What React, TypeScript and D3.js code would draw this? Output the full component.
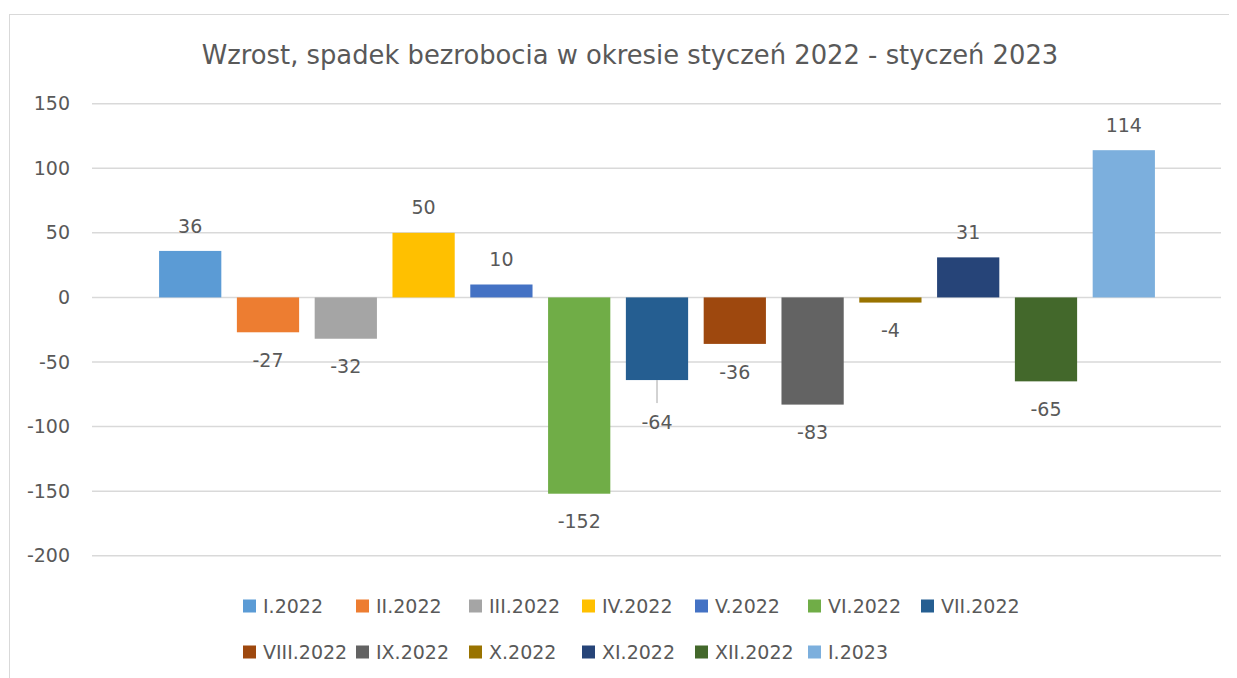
import React from "react";
import * as d3 from "d3";

const categories = ["I.2022","II.2022","III.2022","IV.2022","V.2022","VI.2022","VII.2022","VIII.2022","IX.2022","X.2022","XI.2022","XII.2022","I.2023"];
const values = [36,-27,-32,50,10,-152,-64,-36,-83,-4,31,-65,114];
const colors = ["#5B9BD5","#ED7D31","#A5A5A5","#FFC000","#4472C4","#70AD47","#255E91","#9E480E","#636363","#997300","#264478","#43682B","#7CAFDD"];
const yTicks = [150,100,50,0,-50,-100,-150,-200];
const title = "Wzrost, spadek bezrobocia w okresie styczeń 2022 - styczeń 2023";
// extra label displacement (px) for manually moved labels
const labelExtra = [0,0,0,0,0,0,14,0,0,0,0,0,0];

const FONT = "'DejaVu Sans', Verdana, sans-serif";
const TXT = "#595959";

export default function App() {
  const W = 1237, H = 678;
  const plotL = 92, plotR = 1221;
  const y = d3.scaleLinear().domain([-200, 150]).range([555.7, 103.7]);
  const x = d3.scaleBand<string>().domain(categories).range([151.3, 1162.7]).paddingInner(0.2).paddingOuter(0.1);
  const y0 = y(0);

  return (
    <svg width={W} height={H} style={{ display: "block", margin: "-8px 0 0 -8px", background: "#fff" }}>
      <rect x={9.5} y={14.5} width={W + 10} height={H + 10} fill="#fff" stroke="#d9d9d9" strokeWidth={1} />
      <text x={630} y={64} textAnchor="middle" fontFamily={FONT} fontSize={25.8} fill={TXT}>{title}</text>
      {yTicks.map((t) => (
        <g key={t}>
          <line x1={plotL} x2={plotR} y1={y(t)} y2={y(t)} stroke="#d9d9d9" strokeWidth={1.5} />
          <text x={70} y={y(t)} dy="0.35em" textAnchor="end" fontFamily={FONT} fontSize={19} fill={TXT}>{t}</text>
        </g>
      ))}
      {categories.map((c, i) => {
        const v = values[i];
        const bx = x(c)!;
        const top = Math.min(y(v), y0);
        const h = Math.abs(y(v) - y0);
        const cx = bx + x.bandwidth() / 2;
        const end = y(v);
        const ly = v >= 0 ? end - 25 : end + 28 + labelExtra[i];
        return (
          <g key={c}>
            <rect x={bx} y={top} width={x.bandwidth()} height={h} fill={colors[i]} />
            {labelExtra[i] > 0 && (
              <line x1={cx} x2={cx} y1={end} y2={end + 23} stroke="#a6a6a6" strokeWidth={1} />
            )}
            <text x={cx} y={ly} dy="0.35em" textAnchor="middle" fontFamily={FONT} fontSize={19} fill={TXT}>{v}</text>
          </g>
        );
      })}
      {categories.map((c, i) => {
        const col = i % 7;
        const row = Math.floor(i / 7);
        const lx = 243 + col * 113;
        const ly = 606 + row * 46;
        return (
          <g key={"lg" + c}>
            <rect x={lx} y={ly - 6.5} width={13} height={13} fill={colors[i]} />
            <text x={lx + 20} y={ly} dy="0.35em" fontFamily={FONT} fontSize={19} fill={TXT}>{c}</text>
          </g>
        );
      })}
    </svg>
  );
}
